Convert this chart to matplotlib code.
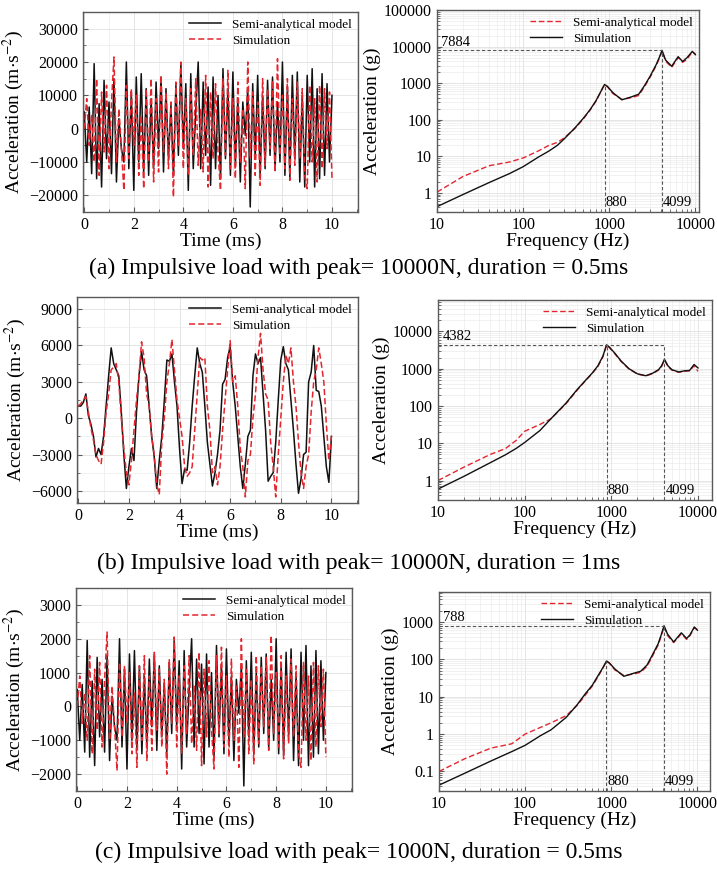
import numpy as np
import matplotlib.pyplot as plt
from matplotlib.ticker import MultipleLocator, LogLocator, FuncFormatter, NullFormatter

plt.rcParams['font.family'] = ['Liberation Serif', 'DejaVu Serif']
plt.rcParams['mathtext.fontset'] = 'stix'

# ---------------- time-domain data (ms, m/s^2) ----------------
time_ms = np.linspace(0, 10, 101)

semi_a = [5000, -10000, 6500, -13500, 19500, -15000, 7500, -17500, 14500, -9000,
          8000, -13500, 15000, -16000, 3000, -6000, -10000, 20000, -12000, 11000,
          -18500, 15500, -10000, 16500, -13000, 12000, -14000, 9000, -12000, 14000,
          -6000, 15500, -13000, 12000, -9000, 7000, -14000, 13000, -8000, 19500,
          -6000, 13500, -18500, 16500, -12000, 5000, 20000, -12000, 14000, -8000,
          12500, -17000, 15500, -12000, 10000, -15000, 18000, -9000, 12000, -14000,
          17000, -11000, 9000, -16000, 8000, -2000, 12000, -23500, 13500, -9000,
          16000, -14000, 10000, -12000, 14500, -8000, 15500, -12500, 8000, -10000,
          20000, -14000, 12500, -14500, 16000, -9000, 17000, -16000, 10000, -17500,
          16000, -10000, 18000, -17500, 12000, -15000, 16500, -14000, 13500, -10000,
          10000]
sim_a = [0, 9000, -5000, 4000, -10000, 15000, -14000, 11000, -7000, 13000,
         -12000, 8000, 21500, -10000, 6000, -6000, -18500, 13000, -9000, 12000,
         -5000, 10000, -14000, 4000, -18000, 12000, -10000, 15000, -16000, 9000,
         -13000, 16000, -7000, 11000, -12000, 8000, -20500, 14000, -5000, 20000,
         -12000, 9000, -14000, 12000, -8000, 15000, -11000, 6000, -13000, 16000,
         -17500, 11000, -9000, 13500, -7000, -18500, 15000, -8000, 17500, -12000,
         9000, -15000, 14000, -10000, 6000, -18000, 20000, -9000, 11000, -14000,
         8000, -17000, 15000, -11000, 12000, -6000, 14500, -13000, 21000, -8000,
         10000, -12000, 15000, -15500, 9000, -11000, 14000, -9000, 12000, -14000,
         -18000, 13000, -10000, 9000, -16000, 13000, -12000, 12000, -6000, 11000,
         -15000]

semi_b = [1000, 1000, 1300, 2000, 200, -500, -1500, -3200, -2500, -3000,
          -1500, 1000, 3500, 5800, 4500, 4000, 3500, 500, -3000, -5800,
          -4000, -2500, -3500, 500, 3500, 5500, 4000, 3500, 1000, -1500,
          -3200, -5800, -3500, -1500, 1500, 4800, 4700, 5300, 3000, 1000,
          -2500, -5400, -4200, -4300, -2000, 1000, 3500, 5800, 4500, 3800,
          1000, -2000, -3800, -5600, -4500, -3000, -1000, 2800, 3200, 5000,
          5900, 3000, 1000, -1500, -4000, -5800, -3800, -1500, -1000, 3500,
          5300, 4500, 5000, 2000, -1000, -5200, -4800, -4500, -2000, 1500,
          4800, 5900, 4500, 4000, 1500, -1000, -3800, -6200, -5000, -3000,
          -2800, 3000, 3800, 6000, 2300, 2200, 1000, -1500, -4000, -5300,
          -1500]
sim_b = [1000, 1200, 1500, 1800, 500, -800, -1800, -3000, -3500, -3800,
         -2000, 500, 2000, 4000, 4200, 4500, 3000, 0, -2500, -4500,
         -5500, -3500, -1000, 1500, 3500, 6300, 5000, 2000, 1000, -1500,
         -3000, -5500, -6300, -2000, 0, 3000, 4500, 6500, 4000, 1500,
         0, -1500, -4000, -4800, -4500, -4000, -1000, 2000, 5000, 4800,
         5000, 1000, -1000, -4500, -4000, -5500, -4000, -1000, 1500, 4000,
         6400, 3000, 3500, 1000, -2500, -4000, -6500, -3500, -3000, 0,
         2000, 5000, 7000, 4000, 2000, 1500, -2000, -4000, -6500, -3000,
         0, 3000, 5200, 4500, 5800, 3000, 1000, -2000, -4500, -5800,
         -4000, -3000, 500, 3000, 4000, 5800, 4500, 3000, -500, -3500,
         -1500]

semi_c = [500, -1000, 650, -1350, 1950, -1500, 750, -1750, 1450, -900,
          800, -1350, 1500, -1600, 300, -600, -1000, 2000, -1200, 1100,
          -1850, 1550, -1000, 1650, -1300, 1200, -1400, 900, -1200, 1400,
          -600, 1550, -1300, 1200, -900, 700, -1400, 1300, -800, 1950,
          -600, 1350, -1850, 1650, -1200, 500, 2000, -1200, 1400, -800,
          1250, -1700, 1550, -1200, 1000, -1500, 1800, -900, 1200, -1400,
          1700, -1100, 900, -1600, 800, -200, 1200, -2350, 1350, -900,
          1600, -1400, 1000, -1200, 1450, -800, 1550, -1250, 800, -1000,
          2000, -1400, 1250, -1450, 1600, -900, 1700, -1600, 1000, -1750,
          1600, -1000, 1800, -1750, 1200, -1500, 1650, -1400, 1350, -1000,
          1000]
sim_c = [0, 900, -500, 400, -1000, 1500, -1400, 1100, -700, 1300,
         -1200, 800, 2200, -1000, 600, -600, -1900, 1300, -900, 1200,
         -500, 1000, -1400, 400, -1800, 1200, -1000, 1500, -1600, 900,
         -1300, 1600, -700, 1100, -1200, 800, -2000, 1400, -500, 2050,
         -1200, 900, -1400, 1200, -800, 1500, -1100, 600, -1300, 1600,
         -1750, 1100, -900, 1350, -700, -1850, 1500, -800, 1750, -1200,
         900, -1500, 1400, -1000, 600, -1800, 2000, -900, 1100, -1400,
         800, -1700, 1500, -1100, 1200, -600, 1450, -1300, 2100, -800,
         1000, -1200, 1500, -1550, 900, -1100, 1400, -900, 1200, -1400,
         -1800, 1300, -1000, 900, -1600, 1300, -1200, 1200, -600, 1100,
         -1500]

# ---------------- frequency-domain data (Hz, g) ----------------
freq_a = [10, 20, 40, 70, 100, 150, 200, 250, 300, 400, 500, 600, 700, 800, 880, 950,
          1100, 1400, 1800, 2200, 2600, 3000, 3500, 3800, 4099, 4500, 5300, 6300, 7100,
          8000, 9200, 10000]
fsim_a = [0.42, 0.9, 1.9, 3.4, 5.2, 9.5, 14, 20, 30, 60, 110, 190, 330, 600, 920, 820,
          550, 350, 420, 500, 900, 1600, 3200, 5000, 7884, 4300, 2900, 5300, 3900,
          5000, 7400, 6000]
fsemi_a = [1.05, 2.8, 5.5, 7.0, 9.0, 14, 20, 24, 32, 58, 105, 185, 320, 590, 900, 800,
           520, 360, 400, 460, 850, 1500, 3000, 4700, 7500, 4000, 2700, 5000, 3700,
           4500, 7200, 6200]

freq_b = [10, 20, 40, 60, 80, 100, 150, 200, 300, 400, 500, 600, 700, 800, 880, 950,
          1100, 1300, 1600, 2000, 2500, 3000, 3500, 3800, 4099, 4500, 5000, 6000, 7000,
          8000, 9000, 10000]
fsim_b = [0.59, 1.3, 3.0, 4.9, 7.3, 10.5, 22, 45, 120, 270, 480, 760, 1200, 2200, 4382,
          3800, 2600, 1600, 1000, 730, 650, 760, 940, 1200, 1800, 1200, 940, 820, 880,
          900, 1300, 1050]
fsemi_b = [1.0, 2.3, 5.0, 7.2, 12, 21, 32, 45, 115, 260, 470, 740, 1150, 2100, 4200,
           3700, 2500, 1550, 980, 720, 640, 740, 920, 1150, 1700, 1150, 920, 800, 860,
           880, 1200, 850]

freq_c = [10, 20, 40, 70, 100, 150, 200, 300, 400, 500, 600, 700, 800, 880, 950, 1100,
          1400, 1800, 2200, 2600, 3000, 3500, 3800, 4099, 4500, 5300, 6500, 7500, 8200,
          9200, 10000]
fsim_c = [0.043, 0.09, 0.19, 0.34, 0.5, 0.9, 1.3, 2.8, 6, 12, 20, 36, 60, 90, 80, 55,
          35, 42, 48, 70, 130, 260, 450, 788, 470, 290, 510, 360, 450, 730, 600]
fsemi_c = [0.1, 0.22, 0.42, 0.55, 1.0, 1.5, 2.0, 3.1, 5.8, 11, 19, 34, 58, 88, 78, 52,
           37, 40, 45, 65, 120, 240, 420, 750, 430, 280, 480, 340, 430, 700, 620]

peak_freqs = [880, 4099]
peak_vals = [7884, 4382, 788]

captions = ['(a) Impulsive load with peak= 10000N, duration = 0.5ms',
            '(b) Impulsive load with peak= 10000N, duration = 1ms',
            '(c) Impulsive load with peak= 1000N, duration = 0.5ms']

W, H = 717, 869
fig = plt.figure(figsize=(W / 100, H / 100), dpi=100)

RED = '#e3262e'
BLK = '#111111'


def px_axes(x0, y0, x1, y1):
    return fig.add_axes([x0 / W, 1 - y1 / H, (x1 - x0) / W, (y1 - y0) / H])


def style(ax):
    for s in ax.spines.values():
        s.set_color('#5a5a5a')
        s.set_linewidth(1.0)
    ax.tick_params(which='both', direction='in', colors='#5a5a5a', labelcolor='black',
                   labelsize=11.5, top=False, right=False)
    ax.tick_params(which='major', length=3.5)
    ax.tick_params(which='minor', length=2)
    ax.grid(True, which='major', color='#e0e0e0', lw=0.6)
    ax.grid(True, which='minor', color='#ececec', lw=0.5)
    ax.set_axisbelow(True)


def time_panel(ax, semi, sim, ylim, major, minor):
    ax.plot(time_ms, semi, color=BLK, lw=1.1, label='Semi-analytical model')
    ax.plot(time_ms, sim, color=RED, lw=1.1, ls=(0, (4, 2)), label='Simulation')
    ax.set_xlim(-0.05, 11.05)
    ax.set_ylim(*ylim)
    ax.xaxis.set_major_locator(MultipleLocator(2))
    ax.xaxis.set_minor_locator(MultipleLocator(1))
    ax.yaxis.set_major_locator(MultipleLocator(major))
    ax.yaxis.set_minor_locator(MultipleLocator(minor))
    style(ax)
    ax.set_xlabel('Time (ms)', fontsize=14, labelpad=0)
    ax.set_ylabel(r'Acceleration (m$\cdot$s$^{-2}$)', fontsize=14, labelpad=2)
    ax.legend(loc='upper right', frameon=False, fontsize=9.5, handlelength=2.4,
              borderaxespad=0.2, labelspacing=0.3, borderpad=0.3)


def freq_panel(ax, freq, semi, sim, xmax, ylim, yticks, peak):
    ax.plot(freq, semi, color=RED, lw=1.0, ls=(0, (4, 2)), label='Semi-analytical model')
    ax.plot(freq, sim, color=BLK, lw=1.0, label='Simulation')
    ax.set_xscale('log')
    ax.set_yscale('log')
    ax.set_xlim(10, xmax)
    ax.set_ylim(*ylim)
    ax.set_xticks([10, 100, 1000, 10000])
    ax.set_yticks(yticks)
    ax.xaxis.set_minor_locator(LogLocator(base=10, subs=np.arange(2, 10)))
    ax.yaxis.set_minor_locator(LogLocator(base=10, subs=np.arange(2, 10)))
    fmt = FuncFormatter(lambda v, p: f'{v:g}')
    ax.xaxis.set_major_formatter(fmt)
    ax.yaxis.set_major_formatter(fmt)
    ax.xaxis.set_minor_formatter(NullFormatter())
    ax.yaxis.set_minor_formatter(NullFormatter())
    style(ax)
    ax.set_xlabel('Frequency (Hz)', fontsize=14, labelpad=0)
    ax.set_ylabel('Acceleration (g)', fontsize=14, labelpad=2)
    ax.legend(loc='upper right', frameon=False, fontsize=9.5, handlelength=2.4,
              borderaxespad=0.2, labelspacing=0.3, borderpad=0.3)
    # peak markers
    first = sim[freq.index(peak_freqs[0])]
    dash = dict(color='#555555', lw=0.8, ls=(0, (3, 2)))
    ax.plot([10, peak_freqs[1]], [peak, peak], **dash)
    ax.plot([peak_freqs[0], peak_freqs[0]], [ylim[0], first], **dash)
    ax.plot([peak_freqs[1], peak_freqs[1]], [ylim[0], peak], **dash)
    ax.text(11.2, peak * 1.12, str(peak), fontsize=10.5, va='bottom', ha='left')
    tr = ax.get_xaxis_transform()
    for f in peak_freqs:
        ax.text(f * 1.03, 0.015, str(f), transform=tr, fontsize=10.5, va='bottom', ha='left')


ax = px_axes(83, 12, 358, 212)
time_panel(ax, semi_a, sim_a, (-25000, 35000), 10000, 5000)
ax = px_axes(437, 10, 699, 212)
freq_panel(ax, freq_a, fsemi_a, fsim_a, 11000, (0.3, 100000),
           [1, 10, 100, 1000, 10000, 100000], peak_vals[0])

ax = px_axes(77, 297, 358, 503)
time_panel(ax, semi_b, sim_b, (-7000, 10000), 3000, 1500)
ax = px_axes(438, 300, 712, 500)
freq_panel(ax, freq_b, fsemi_b, fsim_b, 14500, (0.3, 70000),
           [1, 10, 100, 1000, 10000], peak_vals[1])

ax = px_axes(76, 588, 352, 791)
time_panel(ax, semi_c, sim_c, (-2500, 3500), 1000, 500)
ax = px_axes(439, 592, 710, 791)
freq_panel(ax, freq_c, fsemi_c, fsim_c, 14000, (0.03, 6300),
           [0.1, 1, 10, 100, 1000], peak_vals[2])

for y, cap in zip([268, 563, 852], captions):
    fig.text(0.5, 1 - y / H, cap, ha='center', va='center', fontsize=17)

fig.savefig('out.png', dpi=100)
